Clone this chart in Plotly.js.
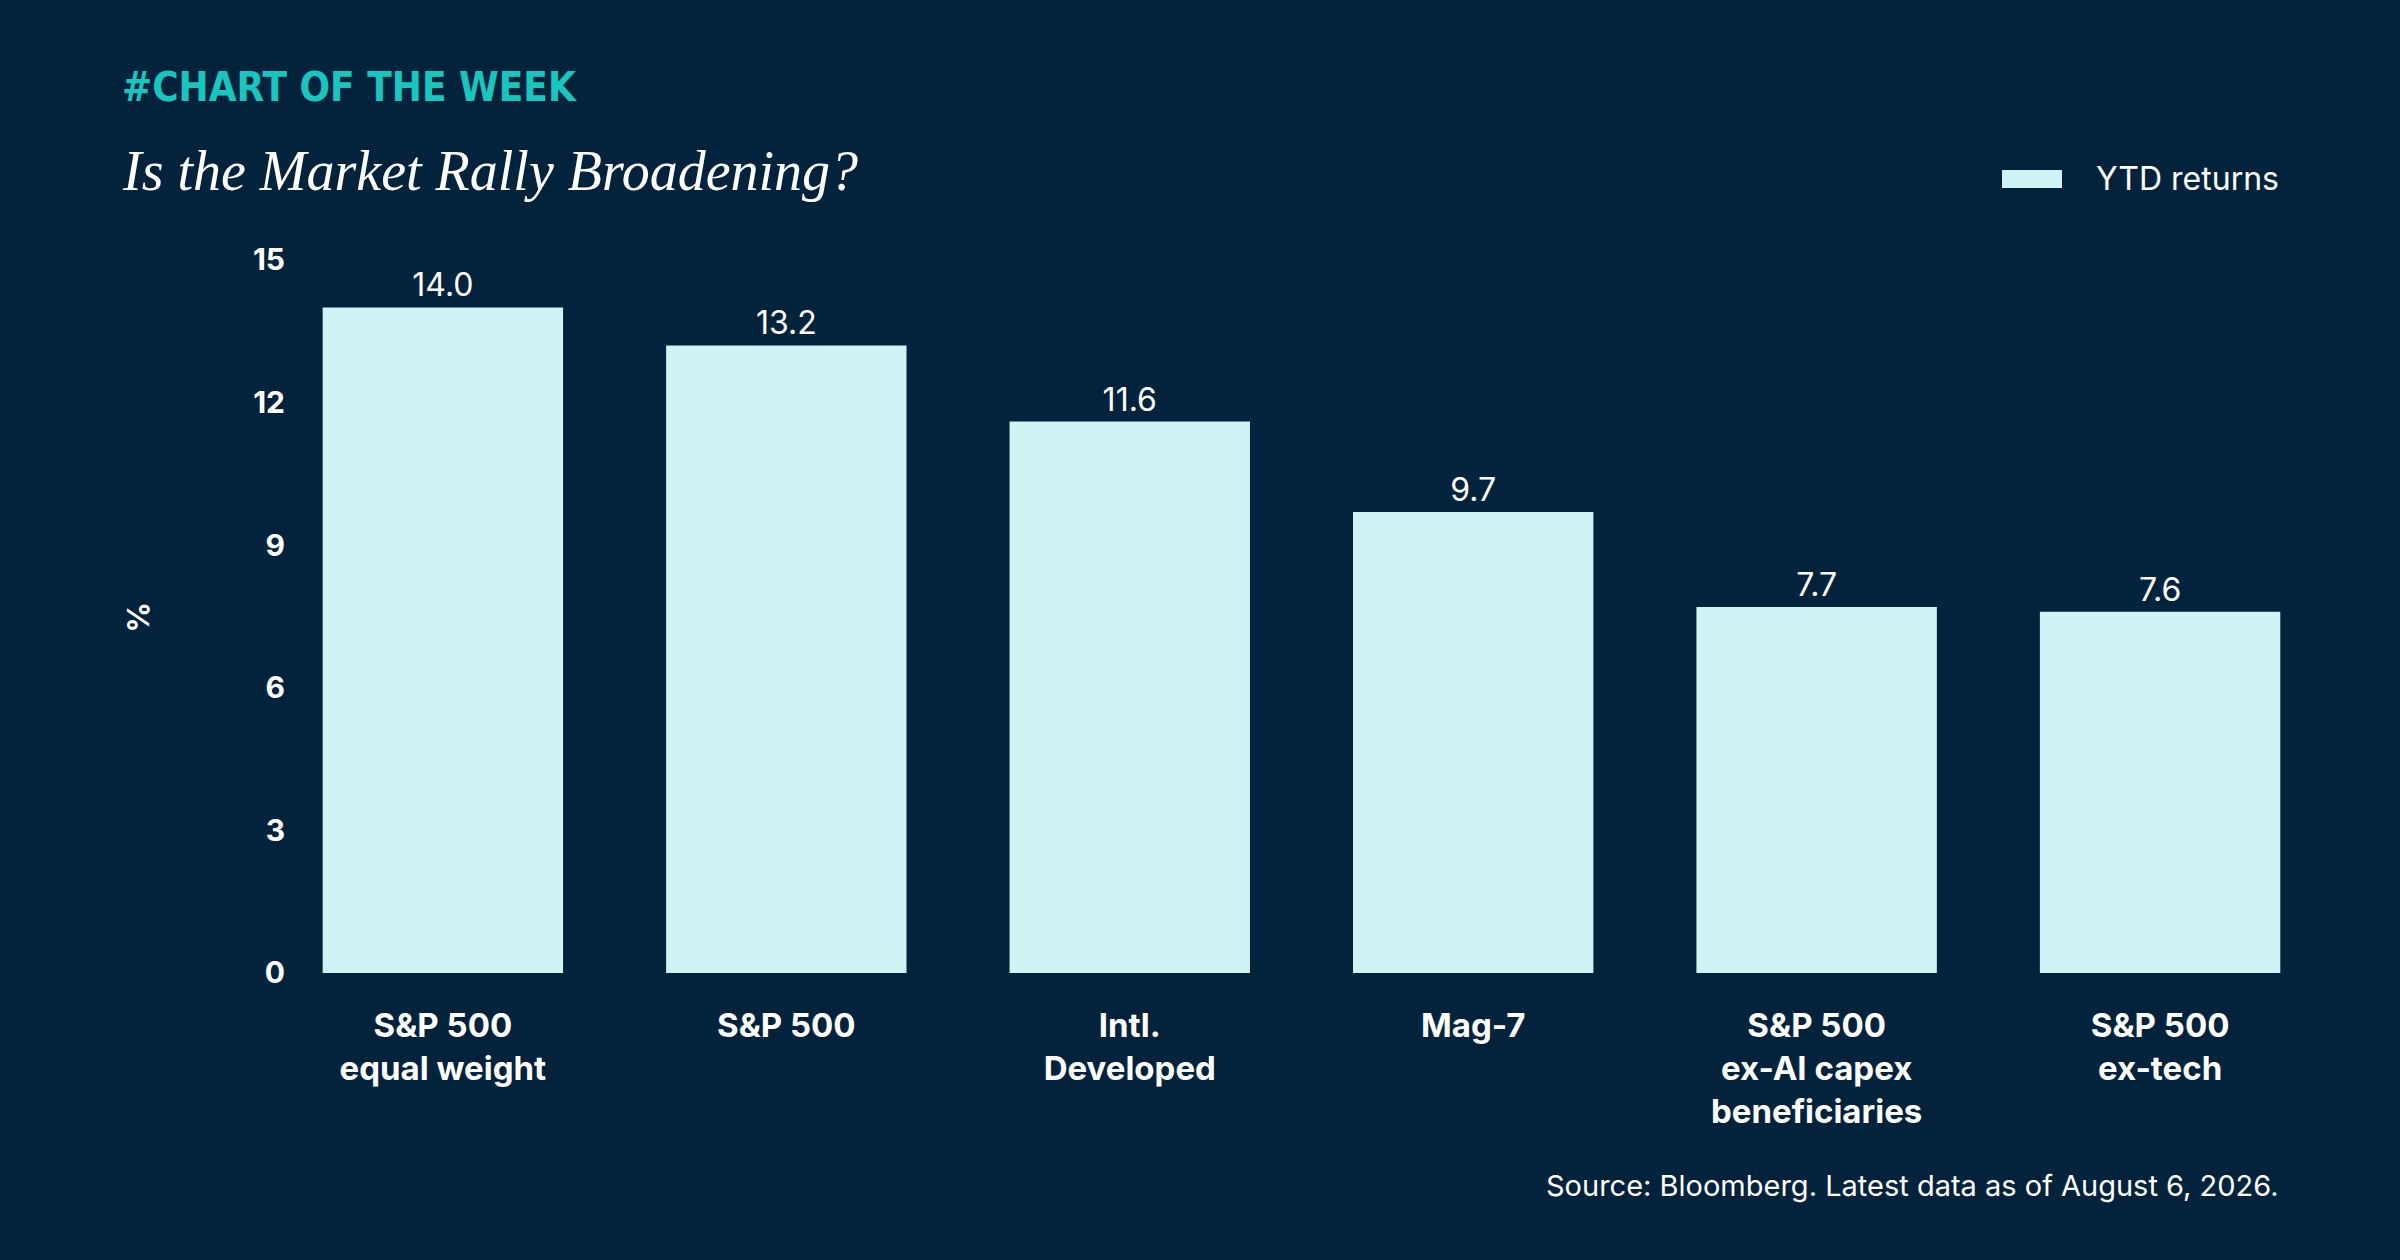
<!DOCTYPE html>
<html><head><meta charset="utf-8">
<script src="https://cdn.plot.ly/plotly-3.0.1.min.js"></script>
<style>html,body{margin:0;padding:0;background:#03233d;}</style>
</head><body>
<div id="chart" style="width:2400px;height:1260px;"></div>
<script>
const categories = ["S&P 500<br>equal weight","S&P 500","Intl.<br>Developed","Mag-7","S&P 500<br>ex-AI capex<br>beneficiaries","S&P 500<br>ex-tech"];
const ytdReturns = [14.0, 13.2, 11.6, 9.7, 7.7, 7.6];
const yTicks = [0, 3, 6, 9, 12, 15];
const seriesName = 'YTD returns';
const fontMain = "Inter, 'Open Sans', sans-serif";

Plotly.newPlot('chart', [{
  type: 'bar',
  x: categories.map((c,i)=>i),
  y: ytdReturns,
  name: seriesName,
  marker: {color: '#cff4f3'},
  text: ytdReturns.map(v => v.toFixed(1)),
  textposition: 'outside',
  textfont: {color: '#ffffff', size: 32, family: fontMain},
  cliponaxis: false,
  hoverinfo: 'none'
}], {
  width: 2400, height: 1260,
  paper_bgcolor: '#03233d', plot_bgcolor: '#03233d',
  margin: {l: 0, r: 0, t: 0, b: 0},
  bargap: 0.3,
  showlegend: false,
  xaxis: {domain: [0.125, 0.9713], range: [-0.416, 5.498], tickvals: [0,1,2,3,4,5],
    ticktext: categories.map(c => '<span style="line-height:0.85">'+c+'</span>'),
    showgrid: false, zeroline: false, showline: false, ticks: '',
    tickfont: {color: '#ffffff', size: 33, family: fontMain, weight: 'bold'}, ticklabelstandoff: 30},
  yaxis: {domain: [0.2278, 0.7937], range: [0, 15], tickvals: yTicks, showgrid: false, zeroline: false,
    showline: false, ticks: '', ticklabelstandoff: 14,
    tickfont: {color: '#ffffff', size: 30, family: fontMain, weight: 'bold'}},
  shapes: [
    {type: 'rect', xref: 'paper', yref: 'paper', x0: 2002/2400, x1: 2062/2400, y0: 1-188/1260, y1: 1-170/1260,
      fillcolor: '#cff4f3', line: {width: 0}}
  ],
  annotations: [
    {xref: 'paper', yref: 'paper', x: 0.9504, y: 1-179/1260, xanchor: 'right', yanchor: 'middle', showarrow: false,
      text: seriesName, font: {family: fontMain, size: 32, color: '#ffffff'}},
    {xref: 'paper', yref: 'paper', x: 0.05, y: 0.931, xanchor: 'left', yanchor: 'middle', showarrow: false,
      text: '#CHART OF THE WEEK', font: {family: "'DejaVu Sans Condensed', 'Liberation Sans Narrow', sans-serif", size: 40, color: '#19c6bf', weight: 'bold'}},
    {xref: 'paper', yref: 'paper', x: 0.05, y: 0.864, xanchor: 'left', yanchor: 'middle', showarrow: false,
      text: '<i>Is the Market Rally Broadening?</i>', font: {family: "'Liberation Serif', 'DejaVu Serif', serif", size: 56, color: '#ffffff'}},
    {xref: 'paper', yref: 'paper', x: 0.0575, y: 0.51, xanchor: 'center', yanchor: 'middle', showarrow: false,
      text: '%', textangle: -90, font: {family: fontMain, size: 30, color: '#ffffff', weight: 'bold'}},
    {xref: 'paper', yref: 'paper', x: 0.9504, y: 0.059, xanchor: 'right', yanchor: 'middle', showarrow: false,
      text: 'Source: Bloomberg. Latest data as of August 6, 2026.', font: {family: fontMain, size: 29, color: '#ffffff'}}
  ]
}, {staticPlot: true});
</script>
</body></html>
